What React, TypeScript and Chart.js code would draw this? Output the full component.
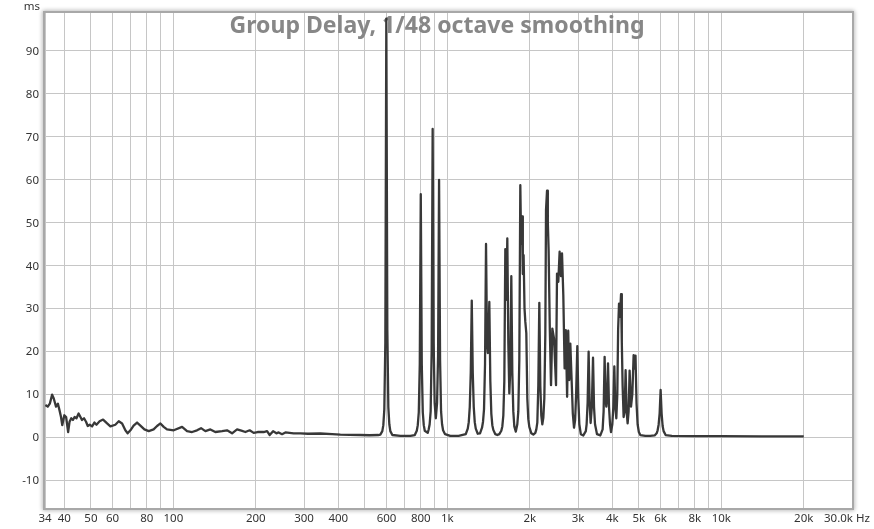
import React, { useEffect, useRef } from "react";
import { Chart, registerables } from "chart.js";

Chart.register(...registerables);

const W = 874;
const H = 529;

const titleText = "Group Delay, 1/48 octave smoothing";
const yUnit = "ms";
const xUnit = "Hz";

// Bass region (34 Hz – 560 Hz)
const bassHz = [
  34.1, 34.8, 35.4, 36.1, 36.6, 37.3, 37.9, 38.4, 38.9, 39.3, 40.0, 40.6, 41.3, 41.8, 42.4, 43.0,
  43.6, 44.3, 45.1, 45.8, 46.4, 47.2, 48.0, 48.7, 49.5, 50.5, 51.5, 52.4, 53.8, 55.4, 57.3, 58.9,
  61.4, 63.2, 65.0, 66.8, 68.1, 69.7, 71.6, 73.7, 75.8, 78.4, 81.3, 84.7, 87.2, 89.7, 92.2, 94.8,
  100.3, 107.6, 112.2, 117.0, 122.0, 126.2, 130.9, 136.5, 142.3, 150.6, 157.0, 163.8, 170.8, 177.1,
  183.2, 189.9, 196.4, 203.0, 213.6, 219.8, 224.7, 231.2, 237.7, 242.3, 249.3, 256.4, 274.8, 290.7,
  310, 344, 380, 407, 440, 481, 520, 560,
];
const bassMs = [
  7.5, 7.1, 7.8, 9.9, 9.0, 7.1, 7.8, 6.3, 4.7, 2.8, 5.1, 4.7, 1.2, 3.6, 4.4, 4.0,
  4.7, 4.4, 5.5, 4.7, 4.0, 4.4, 3.6, 2.6, 2.9, 2.5, 3.4, 2.9, 3.7, 4.1, 3.2, 2.5,
  2.9, 3.7, 3.2, 1.6, 0.9, 1.6, 2.7, 3.4, 2.7, 1.8, 1.4, 1.8, 2.6, 3.2, 2.4, 1.8,
  1.6, 2.4, 1.4, 1.2, 1.6, 2.1, 1.4, 1.8, 1.2, 1.4, 1.6, 0.9, 1.8, 1.5,
  1.2, 1.6, 1.0, 1.2, 1.2, 1.4, 0.5, 1.4, 0.9, 1.1, 0.7, 1.1, 0.9, 0.9,
  0.8, 0.85, 0.7, 0.6, 0.55, 0.5, 0.45, 0.5,
];

// Modal peaks 600 Hz – 1 kHz
const modalHz = [
  569.5, 579.1, 584.0, 588.9, 593.9, 598.9, 604.0, 609.1, 614.2, 619.4, 629.9, 674, 733,
  760.7, 773.6, 780.1, 786.7, 793.3, 800, 806.8, 813.6, 820.4, 827.4, 848,
  854.8, 862.0, 869.3, 876.6, 884, 891.5, 899.0, 908,
  917.4, 925.2, 933, 940.9, 948.8, 956.8, 964.9, 981.2, 1025,
];
const modalMs = [
  0.6, 1.4, 2.8, 6.5, 22, 97.5, 25, 7, 3, 1.4, 0.5, 0.3, 0.3,
  0.5, 1.5, 2.8, 5.8, 17, 56.6, 17, 5.8, 2.8, 1.5, 1.0,
  1.8, 3, 6, 20, 71.8, 22, 8, 4.4,
  8, 19, 59.9, 18, 6, 3, 1.6, 0.7, 0.3,
];

// 1.1 kHz – 2.2 kHz
const midHz = [
  1100, 1167.6, 1187.4, 1197.4, 1207.5, 1217.7, 1228, 1238.4, 1248.8, 1259.3, 1270.0, 1291.5,
  1316.3, 1338.6, 1349.9, 1361.3, 1372.8, 1384.4, 1396.1, 1405.5, 1413.8, 1423.3, 1435.4, 1447.4,
  1459.6, 1471.9, 1496.9, 1522.3,
  1548.1, 1574.3, 1587.6, 1601.0, 1614.5, 1628.1, 1641.8, 1655.7, 1669.7, 1683.8, 1698.0, 1712.3,
  1726.8, 1741.3, 1756.0, 1778.4,
  1800.9, 1816.1, 1831.4, 1846.9, 1859.3, 1873.4, 1886.1, 1898.7, 1913.2, 1926.1, 1942.4, 1958.8,
  1975.3, 1992.0, 2025.8, 2060.1,
  2095.0, 2112.7, 2130.5, 2148.5, 2166.6, 2184.9, 2203.3, 2222.0,
];
const midMs = [
  0.3, 0.7, 2, 3.5, 7, 15, 31.8, 15, 7, 3.5, 2, 0.8,
  0.9, 2.2, 3.6, 6.5, 17, 45, 22, 19.6, 24, 31.5, 13, 5.5,
  2.8, 1.7, 0.7, 0.5,
  0.7, 1.5, 2.5, 5, 13, 43.8, 32, 46.3, 22, 10.2, 16, 37.5,
  15, 6, 2.5, 1.3,
  3, 6, 18, 58.7, 45, 51.4, 38, 42.4, 30, 26.9, 24.2, 9,
  4.2, 2.4, 0.9, 0.6,
  1, 1.8, 3.4, 12, 31.3, 12, 5, 3,
];

// 2.2 kHz – 5.3 kHz
const upperHz = [
  2240.8, 2259.7, 2278.8, 2292.2, 2311.6, 2327.2, 2342.8, 2366.6, 2390.6, 2416.8, 2451.6, 2493.2,
  2514.2, 2541.9, 2569.8, 2600.2, 2622.1, 2650.9, 2680.1, 2707.2, 2736.9, 2762.4, 2785.7, 2811.6,
  2842.5, 2871.3, 2900.4, 2927.3, 2952.0, 2982.0, 3007.2, 3032.6, 3071.0, 3136.2,
  3202.8, 3224.5, 3251.7, 3279.1, 3306.8, 3334.7, 3368.4, 3402.6, 3431.4, 3460.3, 3518.8, 3618.0,
  3688.5, 3719.6, 3751.2, 3779.5, 3805.1, 3830.8, 3859.8, 3892.4, 3925.3, 3958.3,
  4001.9, 4035.6, 4069.7, 4104.0, 4138.7, 4173.6, 4201.8, 4233.7, 4269.4, 4305.4, 4334.4, 4363.6,
  4400.4, 4437.7, 4475.0, 4512.7, 4551.0, 4589.4, 4628.2, 4682.9, 4734.4, 4786.2, 4826.9, 4863.3,
  4904.3, 4950.0, 5000.3, 5063.7, 5281.0,
];
const upperMs = [
  4.5, 9, 24, 52.9, 57.4, 50, 43.6, 25, 12.1, 25.3, 23, 12.1,
  38.1, 36.2, 43.2, 37.5, 42.8, 33, 16, 24.9, 9.4, 24.8, 13.3, 21.8,
  13.3, 5.5, 2.2, 4, 10, 21.2, 9, 3, 0.7, 0.4,
  1.4, 3, 8, 19.9, 8, 3.3, 7, 18.5, 7, 3, 0.7, 0.4,
  1.8, 6, 18.7, 9, 7.1, 9, 17.2, 7, 3, 1.2,
  3, 7, 16.5, 7, 4.4, 10, 25, 31.1, 28, 33.3, 22, 12,
  4.7, 6, 15.6, 6, 3.2, 6, 15.5, 7.1, 10, 19.1, 16, 19,
  8, 3, 1.2, 0.5, 0.3,
];

// 5.5 kHz – 20 kHz
const trebleHz = [
  5500, 5710.5, 5807.2, 5856.2, 5905.6, 5955.5, 6005.8, 6056.5, 6107.5, 6158.8, 6263.6, 6600,
  8000, 10000, 14000, 20000,
];
const trebleMs = [
  0.3, 0.4, 0.9, 1.6, 2.9, 5.5, 11, 5.5, 2.6, 1.4, 0.5, 0.3,
  0.25, 0.25, 0.2, 0.2,
];

const xGridHz = [
  34, 40, 50, 60, 70, 80, 90, 100, 200, 300, 400, 500, 600, 700, 800, 900,
  1000, 2000, 3000, 4000, 5000, 6000, 7000, 8000, 9000, 10000, 20000, 30000,
];
const xLabelHz = [34, 40, 50, 60, 80, 100, 200, 300, 400, 600, 800, 1000, 2000, 3000, 4000, 5000, 6000, 8000, 10000, 20000];
const xLabelText = ["34", "40", "50", "60", "80", "100", "200", "300", "400", "600", "800", "1k", "2k", "3k", "4k", "5k", "6k", "8k", "10k", "20k"];
const xLastHz = 30000;
const xLastText = "30.0k";
const yTicksMs = [-10, 0, 10, 20, 30, 40, 50, 60, 70, 80, 90];

const X_MIN = 34;
const X_MAX = 30000;
const Y_MIN = -16.5;
const Y_MAX = 98.8;

const FONT = '"Noto Sans", "DejaVu Sans", sans-serif';

export default function App() {
  const ref = useRef<HTMLCanvasElement>(null);

  useEffect(() => {
    const canvas = ref.current;
    if (!canvas) return;
    const allHz = [...bassHz, ...modalHz, ...midHz, ...upperHz, ...trebleHz];
    const allMs = [...bassMs, ...modalMs, ...midMs, ...upperMs, ...trebleMs];
    const points = allHz.map((f, i) => ({ x: f, y: allMs[i] }));

    const decor = {
      id: "decor",
      beforeDatasetsDraw(chart: any) {
        const ctx = chart.ctx as CanvasRenderingContext2D;
        ctx.save();
        let size = 22;
        ctx.font = `bold ${size}px ${FONT}`;
        const w = ctx.measureText(titleText).width;
        size = (size * 415) / w;
        ctx.font = `bold ${size.toFixed(2)}px ${FONT}`;
        ctx.fillStyle = "#878787";
        ctx.textAlign = "center";
        ctx.textBaseline = "alphabetic";
        ctx.fillText(titleText, chart.width / 2, 33);
        ctx.restore();
      },
      afterDraw(chart: any) {
        const ctx = chart.ctx as CanvasRenderingContext2D;
        const { left, top, right, bottom } = chart.chartArea;
        const xs = chart.scales.x;
        const ys = chart.scales.y;
        // frame with soft outer shadow
        ctx.save();
        ctx.beginPath();
        ctx.rect(0, 0, chart.width, chart.height);
        ctx.rect(left, top, right - left, bottom - top);
        ctx.clip("evenodd");
        ctx.shadowColor = "rgba(0,0,0,0.5)";
        ctx.shadowBlur = 4;
        ctx.strokeStyle = "#a8a8a8";
        ctx.lineWidth = 2;
        ctx.strokeRect(left - 1, top - 1, right - left + 2, bottom - top + 2);
        ctx.restore();

        ctx.save();
        ctx.fillStyle = "#333333";
        ctx.font = `11.5px ${FONT}`;
        ctx.textBaseline = "alphabetic";
        // y labels
        ctx.textAlign = "right";
        yTicksMs.forEach((v) => {
          const py = ys.getPixelForValue(v);
          ctx.fillText(String(v), left - 6, py + 4.1);
        });
        ctx.fillText(yUnit, left - 5, 10);
        // x labels
        ctx.textAlign = "center";
        const by = bottom + 14;
        xLabelHz.forEach((f, i) => {
          ctx.fillText(xLabelText[i], xs.getPixelForValue(f), by);
        });
        const pLast = xs.getPixelForValue(xLastHz);
        ctx.textAlign = "right";
        ctx.fillText(xLastText, pLast + 1, by);
        ctx.textAlign = "left";
        ctx.fillText(xUnit, pLast + 4, by);
        ctx.restore();
      },
    };

    const chart = new Chart(canvas, {
      type: "line",
      data: {
        datasets: [
          {
            data: points,
            borderColor: "#383838",
            borderWidth: 2.3,
            pointRadius: 0,
            tension: 0,
            fill: false,
            borderJoinStyle: "round",
          },
        ],
      },
      options: {
        animation: false,
        responsive: false,
        layout: { padding: { left: 45, right: 22, top: 13, bottom: 21 } },
        plugins: { legend: { display: false }, tooltip: { enabled: false }, title: { display: false } },
        scales: {
          x: {
            type: "logarithmic",
            min: X_MIN,
            max: X_MAX,
            afterBuildTicks: (scale: any) => {
              scale.ticks = xGridHz.map((v) => ({ value: v }));
            },
            ticks: { display: false },
            grid: { color: "#c6c6c6", lineWidth: 1, drawTicks: false },
            border: { display: false },
          },
          y: {
            type: "linear",
            min: Y_MIN,
            max: Y_MAX,
            afterBuildTicks: (scale: any) => {
              scale.ticks = yTicksMs.map((v) => ({ value: v }));
            },
            ticks: { display: false },
            grid: { color: "#c6c6c6", lineWidth: 1, drawTicks: false },
            border: { display: false },
          },
        },
      },
      plugins: [decor],
    } as any);

    return () => chart.destroy();
  }, []);

  return (
    <div style={{ position: "absolute", left: 0, top: 0, width: W, height: H, background: "#ffffff" }}>
      <canvas ref={ref} width={W} height={H} style={{ display: "block" }} />
    </div>
  );
}
